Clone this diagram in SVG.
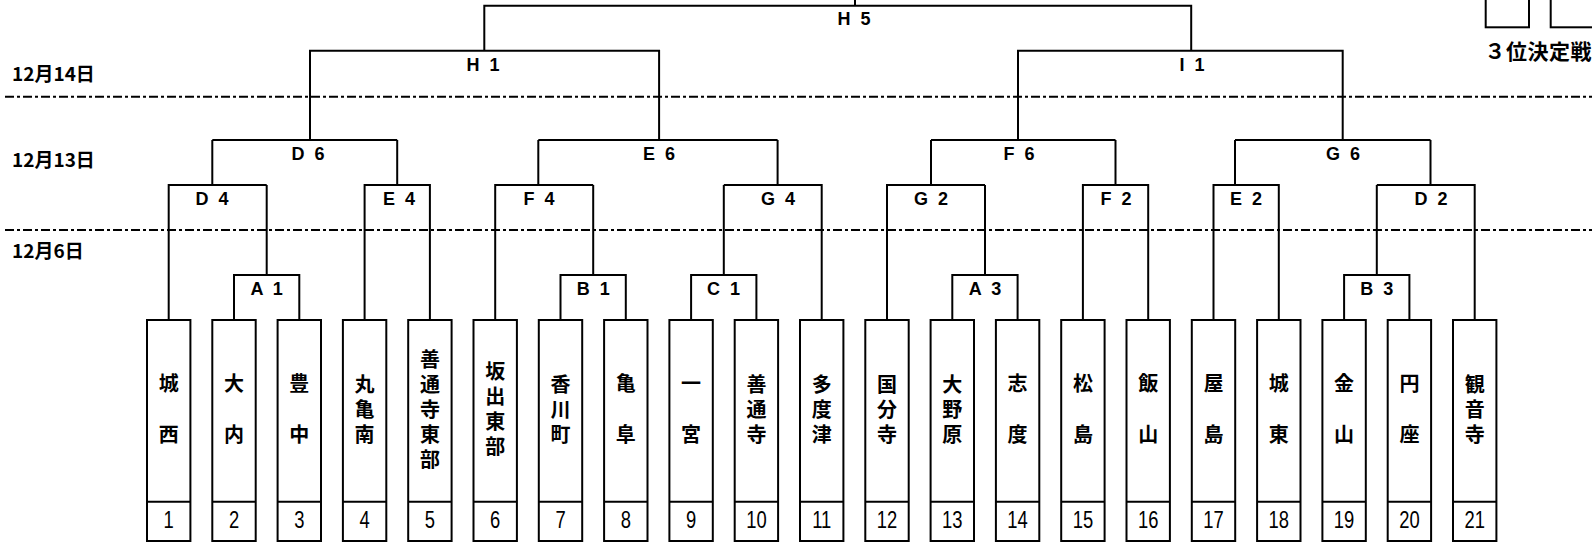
<svg xmlns="http://www.w3.org/2000/svg" width="1592" height="542" viewBox="0 0 1592 542">
<style>
.ln{fill:none;stroke:#000;stroke-width:2}
.dash{fill:none;stroke:#000;stroke-width:2;stroke-dasharray:9 3 3 3}
.bx{fill:#fff;stroke:#000;stroke-width:2}
.lb{font-family:"Liberation Sans",Arial,sans-serif;font-weight:bold;font-size:18px;text-anchor:middle;word-spacing:5px}
.nm{font-family:"Noto Sans CJK JP","Noto Sans CJK SC",sans-serif;font-weight:bold;font-size:20px;text-anchor:middle}
.num{font-family:"Liberation Sans",Arial,sans-serif;font-size:23px;text-anchor:middle}
.dt{font-family:"Noto Sans CJK JP","Noto Sans CJK SC",sans-serif;font-weight:bold;font-size:19px}
.tp{font-family:"Noto Sans CJK JP","Noto Sans CJK SC",sans-serif;font-weight:bold;font-size:21px;letter-spacing:0.5px}
</style>
<rect width="1592" height="542" fill="#fff"/>
<g id="guides">
<path class="dash" d="M5,96.7H1592M5,230H1592"/>
<text class="dt" x="12" y="80.5">12月14日</text>
<text class="dt" x="12" y="167">12月13日</text>
<text class="dt" x="12" y="258">12月6日</text>
</g>
<g id="third-place">
<rect class="ln" x="1485.7" y="-3" width="43.3" height="30.3"/>
<rect class="ln" x="1550.7" y="-3" width="60" height="30.3"/>
<text class="tp" x="1484.5" y="59">３位決定戦</text>
</g>
<g id="connectors">
<path class="ln" d="M234,320V275H299.3V320M266.7,275V185"/>
<path class="ln" d="M560.5,320V275H625.8V320M593.2,275V185"/>
<path class="ln" d="M691.1,320V275H756.4V320M723.8,275V185"/>
<path class="ln" d="M952.3,320V275H1017.6V320M985,275V185"/>
<path class="ln" d="M1344.1,320V275H1409.4V320M1376.8,275V185"/>
<path class="ln" d="M168.7,320V185H266.7M212.3,185V140"/>
<path class="ln" d="M364.6,320V185H429.9V320M397.2,185V140"/>
<path class="ln" d="M495.2,320V185H593.2M538.3,185V140"/>
<path class="ln" d="M723.8,185H821.7V320M777.6,185V140"/>
<path class="ln" d="M887,320V185H985M931,185V140"/>
<path class="ln" d="M1082.9,320V185H1148.2V320M1115.5,185V140"/>
<path class="ln" d="M1213.5,320V185H1278.8V320M1235,185V140"/>
<path class="ln" d="M1376.8,185H1474.7V320M1430.5,185V140"/>
<path class="ln" d="M212.3,140H397.2"/>
<path class="ln" d="M538.3,140H777.6"/>
<path class="ln" d="M931,140H1115.5"/>
<path class="ln" d="M1235,140H1430.5"/>
<path class="ln" d="M310,140V50.7H659.1V140"/>
<path class="ln" d="M1018,140V50.7H1342.7V140"/>
<path class="ln" d="M484.3,50.7V5.7H1191.2V50.7M855,5.7V-2"/>
</g>
<g id="match-labels">
<text class="lb" x="854" y="25">H 5</text>
<text class="lb" x="483" y="71">H 1</text>
<text class="lb" x="1192" y="71">I 1</text>
<text class="lb" x="308" y="160">D 6</text>
<text class="lb" x="659" y="160">E 6</text>
<text class="lb" x="1019" y="160">F 6</text>
<text class="lb" x="1343" y="160">G 6</text>
<text class="lb" x="212" y="205">D 4</text>
<text class="lb" x="399" y="205">E 4</text>
<text class="lb" x="539" y="205">F 4</text>
<text class="lb" x="778" y="205">G 4</text>
<text class="lb" x="931" y="205">G 2</text>
<text class="lb" x="1116" y="205">F 2</text>
<text class="lb" x="1246" y="205">E 2</text>
<text class="lb" x="1431" y="205">D 2</text>
<text class="lb" x="266.7" y="295">A 1</text>
<text class="lb" x="593.3" y="295">B 1</text>
<text class="lb" x="723.5" y="295">C 1</text>
<text class="lb" x="985" y="295">A 3</text>
<text class="lb" x="1376.7" y="295">B 3</text>
</g>
<g id="team-1"><rect class="bx" x="147" y="320" width="43.4" height="221"/><path class="ln" d="M147,501.7h43.4"/><text class="nm"><tspan x="168.7" y="391">城</tspan><tspan x="168.7" y="442">西</tspan></text><text class="num" transform="translate(168.7 528) scale(0.8 1)">1</text></g>
<g id="team-2"><rect class="bx" x="212.3" y="320" width="43.4" height="221"/><path class="ln" d="M212.3,501.7h43.4"/><text class="nm"><tspan x="234" y="391">大</tspan><tspan x="234" y="442">内</tspan></text><text class="num" transform="translate(234 528) scale(0.8 1)">2</text></g>
<g id="team-3"><rect class="bx" x="277.6" y="320" width="43.4" height="221"/><path class="ln" d="M277.6,501.7h43.4"/><text class="nm"><tspan x="299.3" y="391">豊</tspan><tspan x="299.3" y="442">中</tspan></text><text class="num" transform="translate(299.3 528) scale(0.8 1)">3</text></g>
<g id="team-4"><rect class="bx" x="342.9" y="320" width="43.4" height="221"/><path class="ln" d="M342.9,501.7h43.4"/><text class="nm"><tspan x="364.6" y="392">丸</tspan><tspan x="364.6" y="417">亀</tspan><tspan x="364.6" y="442">南</tspan></text><text class="num" transform="translate(364.6 528) scale(0.8 1)">4</text></g>
<g id="team-5"><rect class="bx" x="408.2" y="320" width="43.4" height="221"/><path class="ln" d="M408.2,501.7h43.4"/><text class="nm"><tspan x="429.9" y="367">善</tspan><tspan x="429.9" y="392">通</tspan><tspan x="429.9" y="417">寺</tspan><tspan x="429.9" y="442">東</tspan><tspan x="429.9" y="467">部</tspan></text><text class="num" transform="translate(429.9 528) scale(0.8 1)">5</text></g>
<g id="team-6"><rect class="bx" x="473.5" y="320" width="43.4" height="221"/><path class="ln" d="M473.5,501.7h43.4"/><text class="nm"><tspan x="495.2" y="379">坂</tspan><tspan x="495.2" y="404">出</tspan><tspan x="495.2" y="429">東</tspan><tspan x="495.2" y="454">部</tspan></text><text class="num" transform="translate(495.2 528) scale(0.8 1)">6</text></g>
<g id="team-7"><rect class="bx" x="538.8" y="320" width="43.4" height="221"/><path class="ln" d="M538.8,501.7h43.4"/><text class="nm"><tspan x="560.5" y="392">香</tspan><tspan x="560.5" y="417">川</tspan><tspan x="560.5" y="442">町</tspan></text><text class="num" transform="translate(560.5 528) scale(0.8 1)">7</text></g>
<g id="team-8"><rect class="bx" x="604.1" y="320" width="43.4" height="221"/><path class="ln" d="M604.1,501.7h43.4"/><text class="nm"><tspan x="625.8" y="391">亀</tspan><tspan x="625.8" y="442">阜</tspan></text><text class="num" transform="translate(625.8 528) scale(0.8 1)">8</text></g>
<g id="team-9"><rect class="bx" x="669.4" y="320" width="43.4" height="221"/><path class="ln" d="M669.4,501.7h43.4"/><text class="nm"><tspan x="691.1" y="391">一</tspan><tspan x="691.1" y="442">宮</tspan></text><text class="num" transform="translate(691.1 528) scale(0.8 1)">9</text></g>
<g id="team-10"><rect class="bx" x="734.7" y="320" width="43.4" height="221"/><path class="ln" d="M734.7,501.7h43.4"/><text class="nm"><tspan x="756.4" y="392">善</tspan><tspan x="756.4" y="417">通</tspan><tspan x="756.4" y="442">寺</tspan></text><text class="num" transform="translate(756.4 528) scale(0.8 1)">10</text></g>
<g id="team-11"><rect class="bx" x="800" y="320" width="43.4" height="221"/><path class="ln" d="M800,501.7h43.4"/><text class="nm"><tspan x="821.7" y="392">多</tspan><tspan x="821.7" y="417">度</tspan><tspan x="821.7" y="442">津</tspan></text><text class="num" transform="translate(821.7 528) scale(0.8 1)">11</text></g>
<g id="team-12"><rect class="bx" x="865.3" y="320" width="43.4" height="221"/><path class="ln" d="M865.3,501.7h43.4"/><text class="nm"><tspan x="887" y="392">国</tspan><tspan x="887" y="417">分</tspan><tspan x="887" y="442">寺</tspan></text><text class="num" transform="translate(887 528) scale(0.8 1)">12</text></g>
<g id="team-13"><rect class="bx" x="930.6" y="320" width="43.4" height="221"/><path class="ln" d="M930.6,501.7h43.4"/><text class="nm"><tspan x="952.3" y="392">大</tspan><tspan x="952.3" y="417">野</tspan><tspan x="952.3" y="442">原</tspan></text><text class="num" transform="translate(952.3 528) scale(0.8 1)">13</text></g>
<g id="team-14"><rect class="bx" x="995.9" y="320" width="43.4" height="221"/><path class="ln" d="M995.9,501.7h43.4"/><text class="nm"><tspan x="1017.6" y="391">志</tspan><tspan x="1017.6" y="442">度</tspan></text><text class="num" transform="translate(1017.6 528) scale(0.8 1)">14</text></g>
<g id="team-15"><rect class="bx" x="1061.2" y="320" width="43.4" height="221"/><path class="ln" d="M1061.2,501.7h43.4"/><text class="nm"><tspan x="1082.9" y="391">松</tspan><tspan x="1082.9" y="442">島</tspan></text><text class="num" transform="translate(1082.9 528) scale(0.8 1)">15</text></g>
<g id="team-16"><rect class="bx" x="1126.5" y="320" width="43.4" height="221"/><path class="ln" d="M1126.5,501.7h43.4"/><text class="nm"><tspan x="1148.2" y="391">飯</tspan><tspan x="1148.2" y="442">山</tspan></text><text class="num" transform="translate(1148.2 528) scale(0.8 1)">16</text></g>
<g id="team-17"><rect class="bx" x="1191.8" y="320" width="43.4" height="221"/><path class="ln" d="M1191.8,501.7h43.4"/><text class="nm"><tspan x="1213.5" y="391">屋</tspan><tspan x="1213.5" y="442">島</tspan></text><text class="num" transform="translate(1213.5 528) scale(0.8 1)">17</text></g>
<g id="team-18"><rect class="bx" x="1257.1" y="320" width="43.4" height="221"/><path class="ln" d="M1257.1,501.7h43.4"/><text class="nm"><tspan x="1278.8" y="391">城</tspan><tspan x="1278.8" y="442">東</tspan></text><text class="num" transform="translate(1278.8 528) scale(0.8 1)">18</text></g>
<g id="team-19"><rect class="bx" x="1322.4" y="320" width="43.4" height="221"/><path class="ln" d="M1322.4,501.7h43.4"/><text class="nm"><tspan x="1344.1" y="391">金</tspan><tspan x="1344.1" y="442">山</tspan></text><text class="num" transform="translate(1344.1 528) scale(0.8 1)">19</text></g>
<g id="team-20"><rect class="bx" x="1387.7" y="320" width="43.4" height="221"/><path class="ln" d="M1387.7,501.7h43.4"/><text class="nm"><tspan x="1409.4" y="391">円</tspan><tspan x="1409.4" y="442">座</tspan></text><text class="num" transform="translate(1409.4 528) scale(0.8 1)">20</text></g>
<g id="team-21"><rect class="bx" x="1453" y="320" width="43.4" height="221"/><path class="ln" d="M1453,501.7h43.4"/><text class="nm"><tspan x="1474.7" y="392">観</tspan><tspan x="1474.7" y="417">音</tspan><tspan x="1474.7" y="442">寺</tspan></text><text class="num" transform="translate(1474.7 528) scale(0.8 1)">21</text></g>
</svg>
